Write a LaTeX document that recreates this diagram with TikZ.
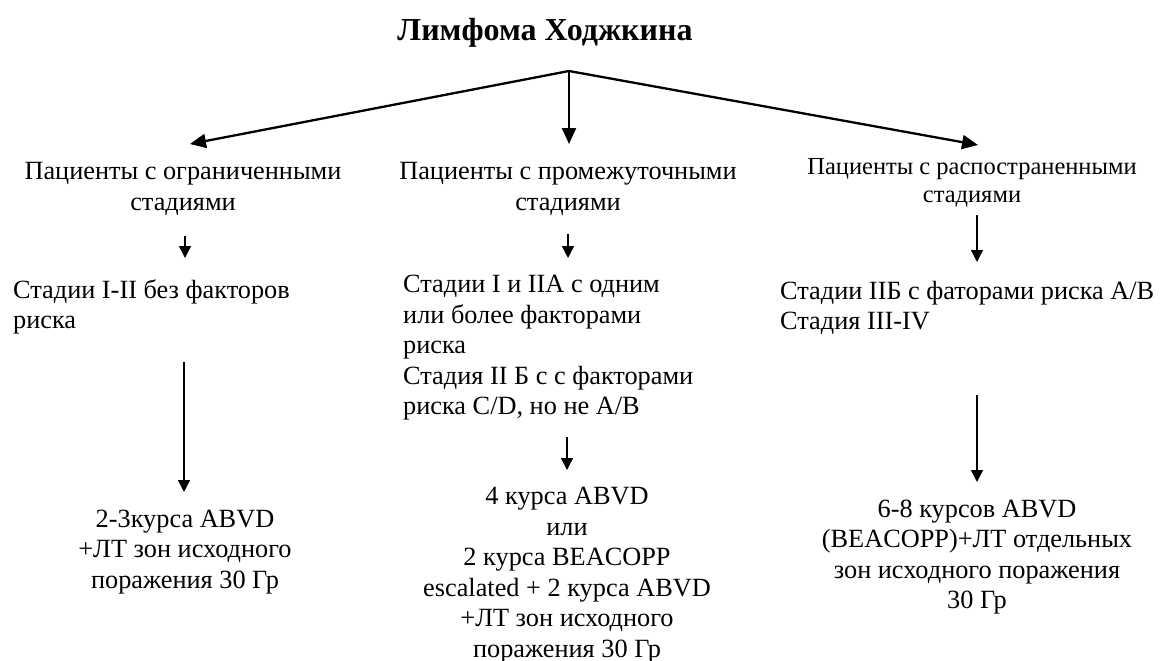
\documentclass[tikz,border=0pt]{standalone}
\usepackage{fontspec}
\setmainfont{Liberation Serif}
\usetikzlibrary{arrows.meta}
\begin{document}
\begin{tikzpicture}[x=1pt,y=-1pt,
  txt/.style={inner sep=0pt, font=\fontsize{26.3}{30.5}\selectfont},
  txtsm/.style={inner sep=0pt, font=\fontsize{24.5}{27.5}\selectfont},
  titlestyle/.style={inner sep=0pt, font=\fontsize{32}{36}\selectfont\bfseries},
  bigarrow/.style={line width=2.3pt, -{Triangle[length=16pt,width=14pt]}},
  smallarrow/.style={line width=1.4pt, -{Triangle[length=12pt,width=12pt]}}]
\useasboundingbox (0,0) rectangle (1165,661);
\node[titlestyle] (title) at (545,33) {Лимфома Ходжкина};
\coordinate (apex) at (569,71);
\coordinate (t1) at (190,144);
\coordinate (t2) at (569,144);
\coordinate (t3) at (978,145);
\draw[bigarrow] (apex) -- (t1);
\draw[bigarrow] (apex) -- (t2);
\draw[bigarrow] (apex) -- (t3);
\node[txt, align=center] (p1) at (183,189) {Пациенты с ограниченными\\стадиями};
\node[txt, align=center] (p2) at (568,189) {Пациенты с промежуточными\\стадиями};
\node[txtsm, align=center] (p3) at (972,183) {Пациенты с распостраненными\\стадиями};
\coordinate (a1s) at (185,236);
\coordinate (a1e) at (185,258);
\coordinate (a2s) at (568,234);
\coordinate (a2e) at (568,258);
\coordinate (a3s) at (977,215);
\coordinate (a3e) at (977,262);
\draw[smallarrow] (a1s) -- (a1e);
\draw[smallarrow] (a2s) -- (a2e);
\draw[smallarrow] (a3s) -- (a3e);
\node[txt, align=left, anchor=west] (s1) at (13,307) {Стадии I-II без факторов\\риска};
\node[txt, align=left, anchor=west] (s2) at (403,348) {Стадии I и IIA с одним\\или более факторами\\риска\\Стадия II Б с с факторами\\риска C/D, но не A/B};
\node[txt, align=left, anchor=west] (s3) at (780,308) {Стадии IIБ с фаторами риска A/B\\Стадия III-IV};
\coordinate (c1s) at (184,362);
\coordinate (c1e) at (184,492);
\coordinate (c2s) at (567,437);
\coordinate (c2e) at (567,470);
\coordinate (c3s) at (977,395);
\coordinate (c3e) at (977,482);
\draw[smallarrow] (c1s) -- (c1e);
\draw[smallarrow] (c2s) -- (c2e);
\draw[smallarrow] (c3s) -- (c3e);
\node[txt, align=center] (b1) at (185,552) {2-3курса ABVD\\+ЛТ зон исходного\\поражения 30 Гр};
\node[txt, align=center] (b2) at (567,575) {4 курса ABVD\\или\\2 курса BEACOPP\\escalated + 2 курса ABVD\\+ЛТ зон исходного\\поражения 30 Гр};
\node[txt, align=center] (b3) at (977,557) {6-8 курсов ABVD\\(BEACOPP)+ЛТ отдельных\\зон исходного поражения\\30 Гр};
\end{tikzpicture}
\end{document}
